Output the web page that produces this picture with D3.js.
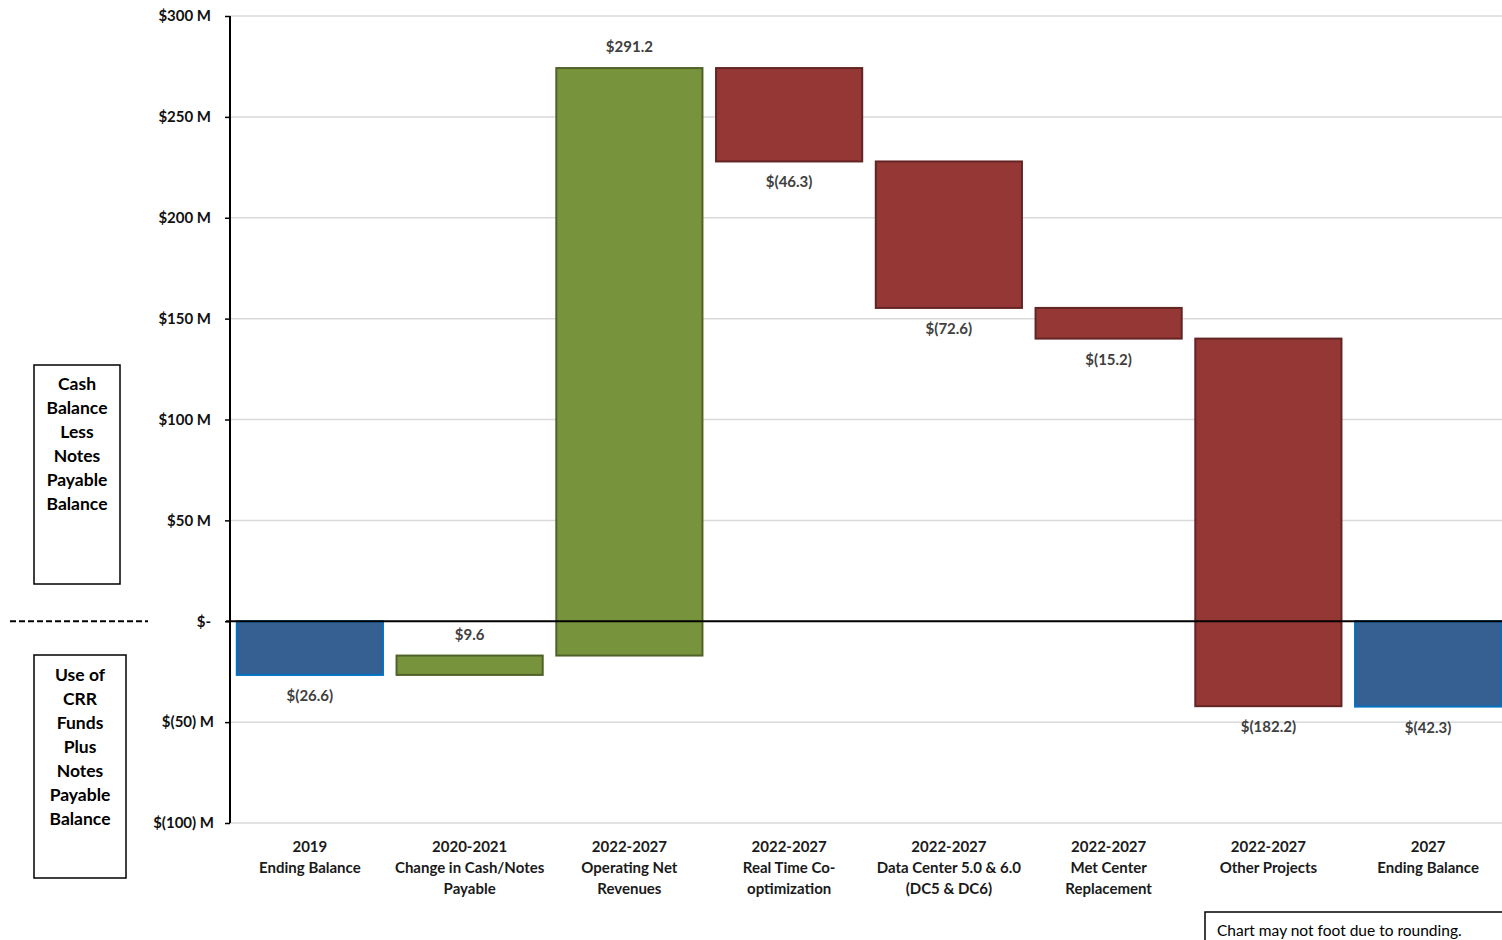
<!DOCTYPE html>
<html><head><meta charset="utf-8">
<script src="https://cdn.jsdelivr.net/npm/d3@7/dist/d3.min.js"></script>
<style>
html,body{margin:0;padding:0;background:#fff;}
svg{display:block;font-family:Lato,"Open Sans",sans-serif;}
</style></head>
<body><svg id="c" width="1502" height="940"></svg>
<script>
const categories = [
  ["2019","Ending Balance"],
  ["2020-2021","Change in Cash/Notes","Payable"],
  ["2022-2027","Operating Net","Revenues"],
  ["2022-2027","Real Time Co-","optimization"],
  ["2022-2027","Data Center 5.0 & 6.0","(DC5 & DC6)"],
  ["2022-2027","Met Center","Replacement"],
  ["2022-2027","Other Projects"],
  ["2027","Ending Balance"]
];
const values = [-26.6, 9.6, 291.2, -46.3, -72.6, -15.2, -182.2, -42.3];
const kinds = ["total","delta","delta","delta","delta","delta","delta","total"];
const valueLabels = ["$(26.6)","$9.6","$291.2","$(46.3)","$(72.6)","$(15.2)","$(182.2)","$(42.3)"];
const yTicks = [300,250,200,150,100,50,0,-50,-100];
const yTickLabels = ["$300 M","$250 M","$200 M","$150 M","$100 M","$50 M","$-","$(50) M","$(100) M"];
const upperBoxText = ["Cash","Balance","Less","Notes","Payable","Balance"];
const lowerBoxText = ["Use of","CRR","Funds","Plus","Notes","Payable","Balance"];
const footnote = "Chart may not foot due to rounding.";

const svg = d3.select("#c");
const x = d3.scaleBand().domain(d3.range(categories.length)).range([230, 1508]).paddingInner(0.085).paddingOuter(0.0425);
const y = d3.scaleLinear().domain([-100, 300]).range([823, 16]);

// compute waterfall spans
let run = 0;
const bars = values.map((v, i) => {
  let y0, y1;
  if (kinds[i] === "total") { y0 = 0; y1 = v; run = v; }
  else { y0 = run; y1 = run + v; run = y1; }
  return {i, v, y0, y1, kind: kinds[i]};
});

// gridlines
svg.append("g").selectAll("line").data(yTicks.filter(t => t !== 0)).join("line")
  .attr("x1", 230).attr("x2", 1502).attr("y1", d => y(d)).attr("y2", d => y(d))
  .attr("stroke", "#d9d9d9").attr("stroke-width", 1.5);

// bars
const fill = d => d.kind === "total" ? "#366092" : (d.v >= 0 ? "#77933C" : "#953735");
const stroke = d => d.kind === "total" ? "#0070C0" : (d.v >= 0 ? "#4F6228" : "#632523");
svg.append("g").selectAll("rect").data(bars).join("rect")
  .attr("x", d => x(d.i)).attr("width", x.bandwidth())
  .attr("y", d => y(Math.max(d.y0, d.y1))).attr("height", d => Math.abs(y(d.y0) - y(d.y1)))
  .attr("fill", fill).attr("stroke", stroke).attr("stroke-width", 2);

// y axis
const yAxis = d3.axisLeft(y).tickValues(yTicks).tickSize(5).tickPadding(14)
  .tickFormat((d, i) => yTickLabels[i]);
const ga = svg.append("g").attr("transform", "translate(230,0)").call(yAxis);
ga.select(".domain").attr("stroke", "#000").attr("stroke-width", 2).attr("d", "M0,16V823");
ga.selectAll(".tick line").attr("stroke", "#000").attr("stroke-width", 1.5);
ga.selectAll(".tick text").attr("font-family", "Lato, sans-serif").attr("font-size", 15)
  .attr("font-weight", "bold").attr("fill", "#111")
  .attr("dx", d => d < 0 ? 3 : 0);

// zero line
svg.append("line").attr("x1", 226).attr("x2", 1502).attr("y1", y(0)).attr("y2", y(0))
  .attr("stroke", "#000").attr("stroke-width", 2);

// value labels
svg.append("g").selectAll("text").data(bars).join("text")
  .attr("x", d => x(d.i) + x.bandwidth() / 2)
  .attr("y", d => d.v >= 0 ? y(Math.max(d.y0, d.y1)) - 16 : y(Math.min(d.y0, d.y1)) + 26)
  .attr("text-anchor", "middle").attr("font-size", 15).attr("font-weight", "bold")
  .attr("fill", "#404040").text((d, i) => valueLabels[i]);

// category labels
const cg = svg.append("g").selectAll("text").data(categories).join("text")
  .attr("text-anchor", "middle").attr("font-size", 15).attr("font-weight", "bold").attr("fill", "#1a1a1a")
  .attr("transform", (d, i) => `translate(${x(i) + x.bandwidth() / 2},852)`);
cg.selectAll("tspan").data(d => d).join("tspan").attr("x", 0).attr("dy", (d, j) => j === 0 ? 0 : 21).text(d => d);

// left boxes
function box(x0, y0, w, h, lines, cx, ty) {
  svg.append("rect").attr("x", x0).attr("y", y0).attr("width", w).attr("height", h)
    .attr("fill", "#fff").attr("stroke", "#000").attr("stroke-width", 1.5);
  svg.append("g").selectAll("text").data(lines).join("text")
    .attr("x", cx).attr("y", (d, j) => ty + j * 24).attr("text-anchor", "middle")
    .attr("font-size", 17.5).attr("font-weight", "bold").attr("fill", "#000").text(d => d);
}
box(34, 365, 86, 219, upperBoxText, 77, 390);
box(34, 655, 92, 223, lowerBoxText, 80, 681);

// dashed separator
svg.append("line").attr("x1", 10).attr("x2", 148).attr("y1", y(0)).attr("y2", y(0))
  .attr("stroke", "#000").attr("stroke-width", 2).attr("stroke-dasharray", "6,3");

// footnote
svg.append("rect").attr("x", 1205).attr("y", 912).attr("width", 310).attr("height", 40)
  .attr("fill", "#fff").attr("stroke", "#000").attr("stroke-width", 1.5);
svg.append("text").attr("x", 1217).attr("y", 936).attr("font-size", 15.5).attr("fill", "#000").text(footnote);
</script></body></html>
